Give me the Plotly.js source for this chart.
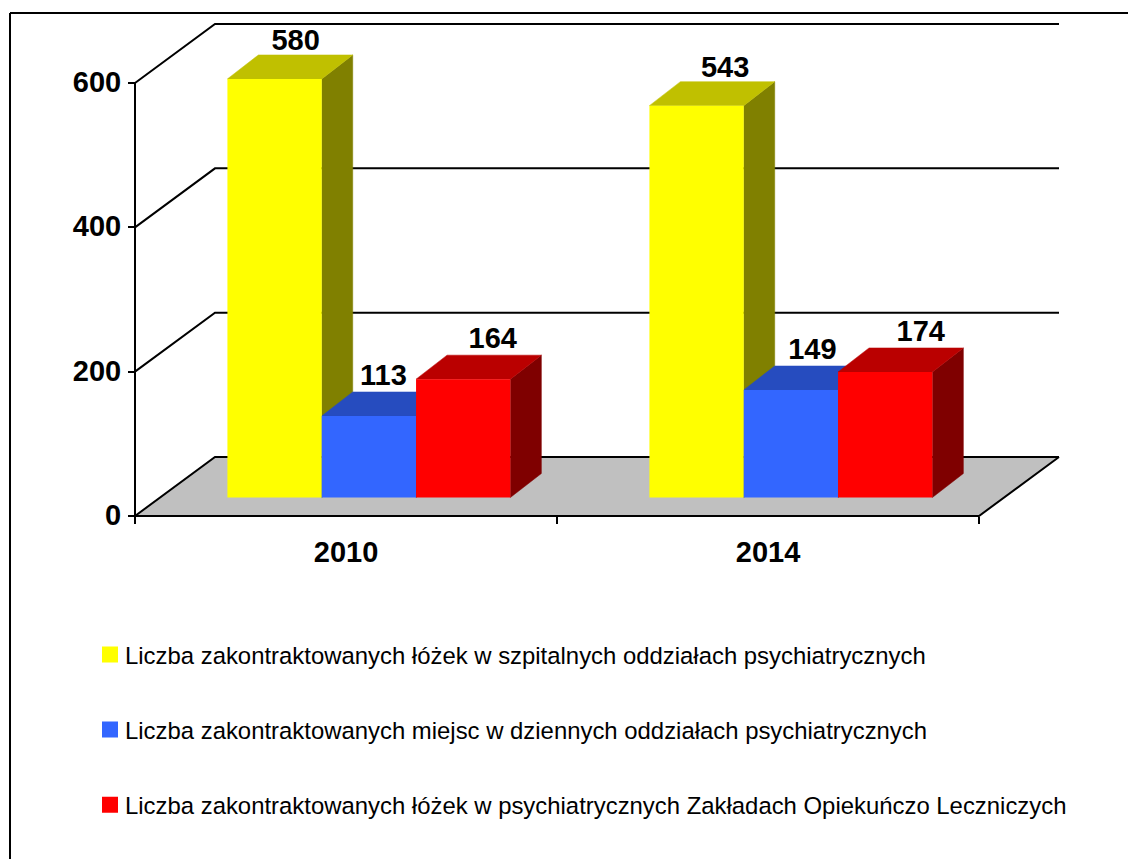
<!DOCTYPE html>
<html>
<head>
<meta charset="utf-8">
<script src="https://cdn.plot.ly/plotly-3.0.1.min.js"></script>
<style>html,body{margin:0;padding:0;background:#fff;overflow:hidden}#c{width:1128px;height:859px}</style>
</head>
<body>
<div id="c"></div>
<script>
// ---- data ----
var categories = ['2010', '2014'];
var seriesNames = [
  'Liczba zakontraktowanych łóżek w szpitalnych oddziałach psychiatrycznych',
  'Liczba zakontraktowanych miejsc w dziennych oddziałach psychiatrycznych',
  'Liczba zakontraktowanych łóżek w psychiatrycznych Zakładach Opiekuńczo Leczniczych'
];
var szpitalne = [580, 543];
var dzienne = [113, 149];
var zol = [164, 174];
var yTicks = [0, 200, 400, 600];
// ---- styles ----
var frontColors = ['#FFFF00', '#3366FF', '#FF0000'];
var topColors = ['#C0C000', '#264CBF', '#BA0000'];
var sideColors = ['#808000', '#19337F', '#7F0000'];
var labelNudgeX = [[5.5, 13], [-1, 6], [14, 20]]; // px, hand-placed labels in the original
var labelNudgeY = [[-3.5, -3.5], [-1, -1], [-1, -1]];

// ---- geometry ----
var W = 1128, H = 859, L = 120, R = 1080, T = 14, B = 530;
var axisX = 135, axisY = 516;
var pxPerCat = 422, pxPerUnit = 433 / 600;
var wallDx = 80 / pxPerCat, wallDy = 59 / pxPerUnit;
var barDx = 31 / pxPerCat, barDy = 24 / pxPerUnit;
var barBase = 18.5 / pxPerUnit, barStart = -0.281, barW = 0.2235;
var xEnd = -0.5 + 2 + wallDx;
function px(x) { return (x - L) / (R - L); }
function py(y) { return (B - y) / (B - T); }
var xRange = [-0.5 - (axisX - L) / pxPerCat, -0.5 + (R - axisX) / pxPerCat];
var yRange = [-(B - axisY) / pxPerUnit, (axisY - T) / pxPerUnit];
var yMax = yTicks[yTicks.length - 1];
var values = [szpitalne, dzienne, zol];

var traces = [];
function line(xs, ys, w) {
  traces.push({type: 'scatter', mode: 'lines', x: xs, y: ys, line: {color: '#000', width: w || 2},
    showlegend: false, hoverinfo: 'skip', xaxis: 'x', yaxis: 'y'});
}
function poly(xs, ys, color) {
  traces.push({type: 'scatter', mode: 'lines', x: xs.concat(xs[0]), y: ys.concat(ys[0]), fill: 'toself',
    fillcolor: color, line: {color: color, width: 0.5}, showlegend: false, hoverinfo: 'skip', xaxis: 'x', yaxis: 'y'});
}
// floor
poly([-0.5, 1.5, 1.5 + wallDx, -0.5 + wallDx], [0, 0, wallDy, wallDy], '#C0C0C0');
// back-wall grid lines and left-wall diagonals
yTicks.forEach(function (t) {
  line([-0.5, -0.5 + wallDx, xEnd], [t, t + wallDy, t + wallDy]);
});
line([-0.5, -0.5], [0, yMax]);         // value axis
line([-0.5, 1.5, xEnd], [0, 0, wallDy]); // floor front and right edge

// extruded sides and tops, painted below the front faces
values.forEach(function (vals, k) {
  vals.forEach(function (v, i) {
    var x0 = i + barStart + k * barW, x1 = x0 + barW, top = v + barBase;
    poly([x1, x1 + barDx, x1 + barDx, x1], [barBase, barBase + barDy, top + barDy, top], sideColors[k]);
  });
});
values.forEach(function (vals, k) {
  vals.forEach(function (v, i) {
    var x0 = i + barStart + k * barW, x1 = x0 + barW, top = v + barBase;
    poly([x0, x1, x1 + barDx, x0 + barDx], [top, top, top + barDy, top + barDy], topColors[k]);
  });
});
// data labels
values.forEach(function (vals, k) {
  traces.push({type: 'scatter', mode: 'text', xaxis: 'x', yaxis: 'y', showlegend: false, hoverinfo: 'skip',
    x: vals.map(function (v, i) { return i + barStart + (k + 0.5) * barW + barDx / 2 + labelNudgeX[k][i] / pxPerCat; }),
    y: vals.map(function (v, i) { return v + barBase + (39.5 + labelNudgeY[k][i]) / pxPerUnit; }),
    text: vals.map(String), textposition: 'middle center',
    textfont: {family: 'Liberation Sans, Arial, sans-serif', size: 29, color: '#000', weight: 'bold'}
  });
});
// front faces, on the category axis overlay
values.forEach(function (vals, k) {
  traces.push({type: 'bar', x: categories, y: vals, base: barBase, width: barW, offset: barStart + k * barW,
    marker: {color: frontColors[k], line: {width: 0}}, showlegend: false, hoverinfo: 'skip', xaxis: 'x2', yaxis: 'y'});
});
// legend entries
seriesNames.forEach(function (n, k) {
  traces.push({type: 'scatter', mode: 'markers', x: [null], y: [null], name: n, legendgroup: 'g' + k,
    marker: {symbol: 'square', size: 16, color: frontColors[k]}, xaxis: 'x', yaxis: 'y', hoverinfo: 'skip'});
});

var axisFont = {family: 'Liberation Sans, Arial, sans-serif', size: 29, color: '#000', weight: 'bold'};
var layout = {
  width: W, height: H, autosize: false, paper_bgcolor: '#fff', plot_bgcolor: '#fff',
  margin: {l: L, r: W - R, t: T, b: H - B, pad: 0},
  barmode: 'overlay', hovermode: false,
  xaxis: {type: 'linear', range: xRange, anchor: 'free', position: py(axisY), showgrid: false, zeroline: false,
    showline: false, tickmode: 'array', tickvals: [-0.5, 0.5, 1.5], ticks: 'outside', ticklen: 7, tickwidth: 2,
    tickcolor: '#000', showticklabels: false, fixedrange: true},
  xaxis2: {type: 'category', overlaying: 'x', categoryorder: 'array', categoryarray: categories, range: xRange,
    anchor: 'free', position: py(axisY), side: 'bottom', showgrid: false, zeroline: false, showline: false,
    ticks: 'outside', ticklen: 10, tickwidth: 0, tickcolor: 'rgba(0,0,0,0)', tickfont: axisFont, ticklabelshift: -1.5, fixedrange: true},
  yaxis: {type: 'linear', range: yRange, anchor: 'free', position: px(axisX), showgrid: false, zeroline: false,
    showline: false, tickmode: 'array', tickvals: yTicks, ticktext: yTicks.map(String), ticks: 'outside', ticklen: 7,
    tickwidth: 2, tickcolor: '#000', tickfont: axisFont, ticklabelstandoff: 1, ticklabelshift: -1, fixedrange: true},
  legend: {x: px(85), xanchor: 'left', y: py(632.5), yanchor: 'top', tracegroupgap: 41,
    bgcolor: 'rgba(0,0,0,0)', borderwidth: 0, itemclick: false, itemdoubleclick: false,
    font: {family: 'Liberation Sans, Arial, sans-serif', size: 23.9, color: '#000'}},
  showlegend: true,
  shapes: [
    {type: 'line', xref: 'paper', yref: 'paper', x0: px(10), x1: px(W + 5), y0: py(13), y1: py(13), line: {color: '#000', width: 2}},
    {type: 'line', xref: 'paper', yref: 'paper', x0: px(10), x1: px(10), y0: py(13), y1: py(H + 5), line: {color: '#000', width: 2}}
  ]
};
Plotly.newPlot('c', traces, layout, {displayModeBar: false, staticPlot: true}).then(function (gd) {
  // the original's swatches sit closer to their text than the legend's fixed item width allows
  gd.querySelectorAll('.legendsymbols').forEach(function (s) { s.setAttribute('transform', 'translate(5,0)'); });
});
</script>
</body>
</html>
